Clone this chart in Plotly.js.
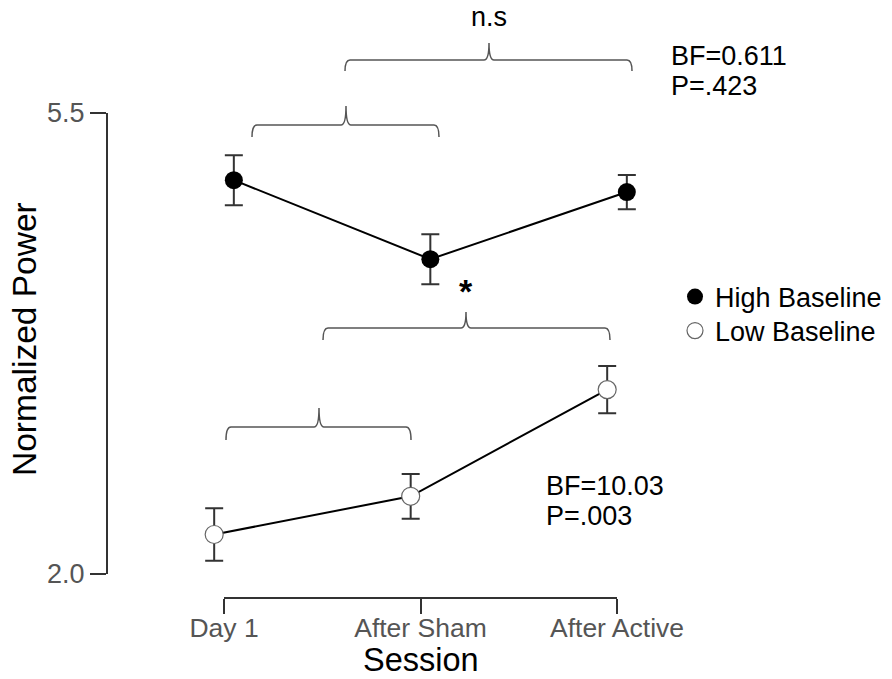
<!DOCTYPE html>
<html>
<head>
<meta charset="utf-8">
<script src="https://cdn.plot.ly/plotly-3.0.1.min.js"></script>
<style>
  html, body { margin: 0; padding: 0; background: #fff; }
  #chart { width: 892px; height: 679px; }
</style>
</head>
<body>
<div id="chart"></div>
<script>
// Session labels and group means with their error bar half-widths
const sessions = ['Day 1', 'After Sham', 'After Active'];
const highMean = [4.99, 4.39, 4.90];
const highErr  = [0.19, 0.19, 0.13];
const lowMean  = [2.30, 2.59, 3.40];
const lowErr   = [0.20, 0.17, 0.18];
const yTickVals = [2.0, 5.5];
const yTickText = ['2.0', '5.5'];

// Layout geometry
const W = 892, H = 679;
const M = { l: 107, r: 0, t: 0, b: 81 };
const xRange = [0.40458, 4.39949];
const yRange = [1.81779, 6.35792];
const plotW = W - M.l - M.r, plotH = H - M.t - M.b;
const dodge = 0.05;

// Pixel -> data / paper helpers for decorations (brackets, labels)
const X = px => xRange[0] + (px - M.l) / plotW * (xRange[1] - xRange[0]);
const Y = py => yRange[1] - (py - M.t) / plotH * (yRange[1] - yRange[0]);
const PX = px => (px - M.l) / plotW;
const PY = py => 1 - (py - M.t) / plotH;

const FONT = 'Liberation Sans, Arial, Helvetica, sans-serif';
const pos = sessions.map((_, i) => i + 1);
const xHigh = pos.map(p => p + dodge);
const xLow = pos.map(p => p - dodge);

const traces = [
  { x: xHigh, y: highMean, mode: 'lines', line: { color: '#000', width: 2 },
    showlegend: false, hoverinfo: 'skip' },
  { x: xLow, y: lowMean, mode: 'lines', line: { color: '#000', width: 2 },
    showlegend: false, hoverinfo: 'skip' },
  { x: xHigh, y: highMean, mode: 'markers', name: 'High Baseline', legend: 'legend',
    marker: { size: 18, color: '#000', line: { width: 0 } },
    error_y: { type: 'data', array: highErr, visible: true, color: '#333', thickness: 2, width: 9 } },
  { x: xLow, y: lowMean, mode: 'markers', name: 'Low Baseline', legend: 'legend2',
    marker: { size: 18, color: '#fff', line: { width: 1.2, color: '#666' } },
    error_y: { type: 'data', array: lowErr, visible: true, color: '#333', thickness: 2, width: 9 } }
];

// Curly bracket path, given in pixel positions and converted to data space
function brace(x0, x1, xc, yLine, yEnd, yTip) {
  const r = 5;
  return 'M' + X(x0) + ',' + Y(yEnd) +
    ' Q' + X(x0) + ',' + Y(yLine) + ' ' + X(x0 + r) + ',' + Y(yLine) +
    ' L' + X(xc - r) + ',' + Y(yLine) +
    ' Q' + X(xc) + ',' + Y(yLine) + ' ' + X(xc) + ',' + Y(yTip) +
    ' Q' + X(xc) + ',' + Y(yLine) + ' ' + X(xc + r) + ',' + Y(yLine) +
    ' L' + X(x1 - r) + ',' + Y(yLine) +
    ' Q' + X(x1) + ',' + Y(yLine) + ' ' + X(x1) + ',' + Y(yEnd);
}
const braceStyle = { color: '#555', width: 1.5 };
const braces = [
  [345, 632, 489, 60, 71, 43],
  [252, 439, 346, 125, 137, 106],
  [323, 610, 466, 328, 340, 312],
  [226, 411, 319, 427, 440, 408]
].map(b => ({ type: 'path', xref: 'x', yref: 'y', path: brace(...b), line: braceStyle }));

const shapes = [
  // y axis line from 2.0 to 5.5
  { type: 'line', xref: 'paper', yref: 'y', x0: 0, x1: 0, y0: yTickVals[0], y1: yTickVals[1],
    line: { color: '#333', width: 2 } },
  // x axis line between first and last session
  { type: 'line', xref: 'x', yref: 'paper', x0: pos[0], x1: pos[pos.length - 1], y0: 0, y1: 0,
    line: { color: '#333', width: 2 } },
  ...braces
];

function label(text, xpx, ypx, size, anchor, extra) {
  return Object.assign({ xref: 'paper', yref: 'paper', x: PX(xpx), y: PY(ypx), text: text, showarrow: false,
    xanchor: anchor || 'left', yanchor: 'middle', font: { family: FONT, size: size, color: '#000' } }, extra || {});
}

const annotations = [
  label('n.s', 489, 17, 27, 'center'),
  label('BF=0.611', 669, 56, 27),
  label('P=.423', 669, 86, 27),
  label('<b>*</b>', 466, 291, 34, 'center'),
  label('BF=10.03', 544, 486, 27),
  label('P=.003', 544, 516, 27),
  label('Session', 420.5, 679, 32.5, 'center', { yanchor: 'bottom', borderpad: 0 }),
  label('Normalized Power', 24, 339, 33.5, 'center', { textangle: -90 })
];

const legendBase = {
  xref: 'paper', xanchor: 'left', yanchor: 'middle',
  font: { family: FONT, size: 27, color: '#000' }, bgcolor: 'rgba(0,0,0,0)', borderwidth: 0
};

const layout = {
  width: W, height: H, autosize: false,
  margin: M,
  paper_bgcolor: '#fff', plot_bgcolor: '#fff',
  font: { family: FONT },
  showlegend: true,
  legend: Object.assign({ x: PX(675), y: PY(297) }, legendBase),
  legend2: Object.assign({ x: PX(675), y: PY(331) }, legendBase),
  xaxis: {
    range: xRange, showgrid: false, zeroline: false, showline: false,
    tickmode: 'array', tickvals: pos, ticktext: sessions,
    ticks: 'outside', ticklen: 15, tickwidth: 2, tickcolor: '#333', ticklabelstandoff: -9,
    tickfont: { family: FONT, size: 26.5, color: '#555' }, fixedrange: true
  },
  yaxis: {
    range: yRange, showgrid: false, zeroline: false, showline: false,
    tickmode: 'array', tickvals: yTickVals, ticktext: yTickText,
    ticks: 'outside', ticklen: 16, tickwidth: 2, tickcolor: '#333',
    tickfont: { family: FONT, size: 27, color: '#555' }, fixedrange: true
  },
  shapes: shapes,
  annotations: annotations
};

Plotly.newPlot('chart', traces, layout, { displayModeBar: false, staticPlot: true });
</script>
</body>
</html>
